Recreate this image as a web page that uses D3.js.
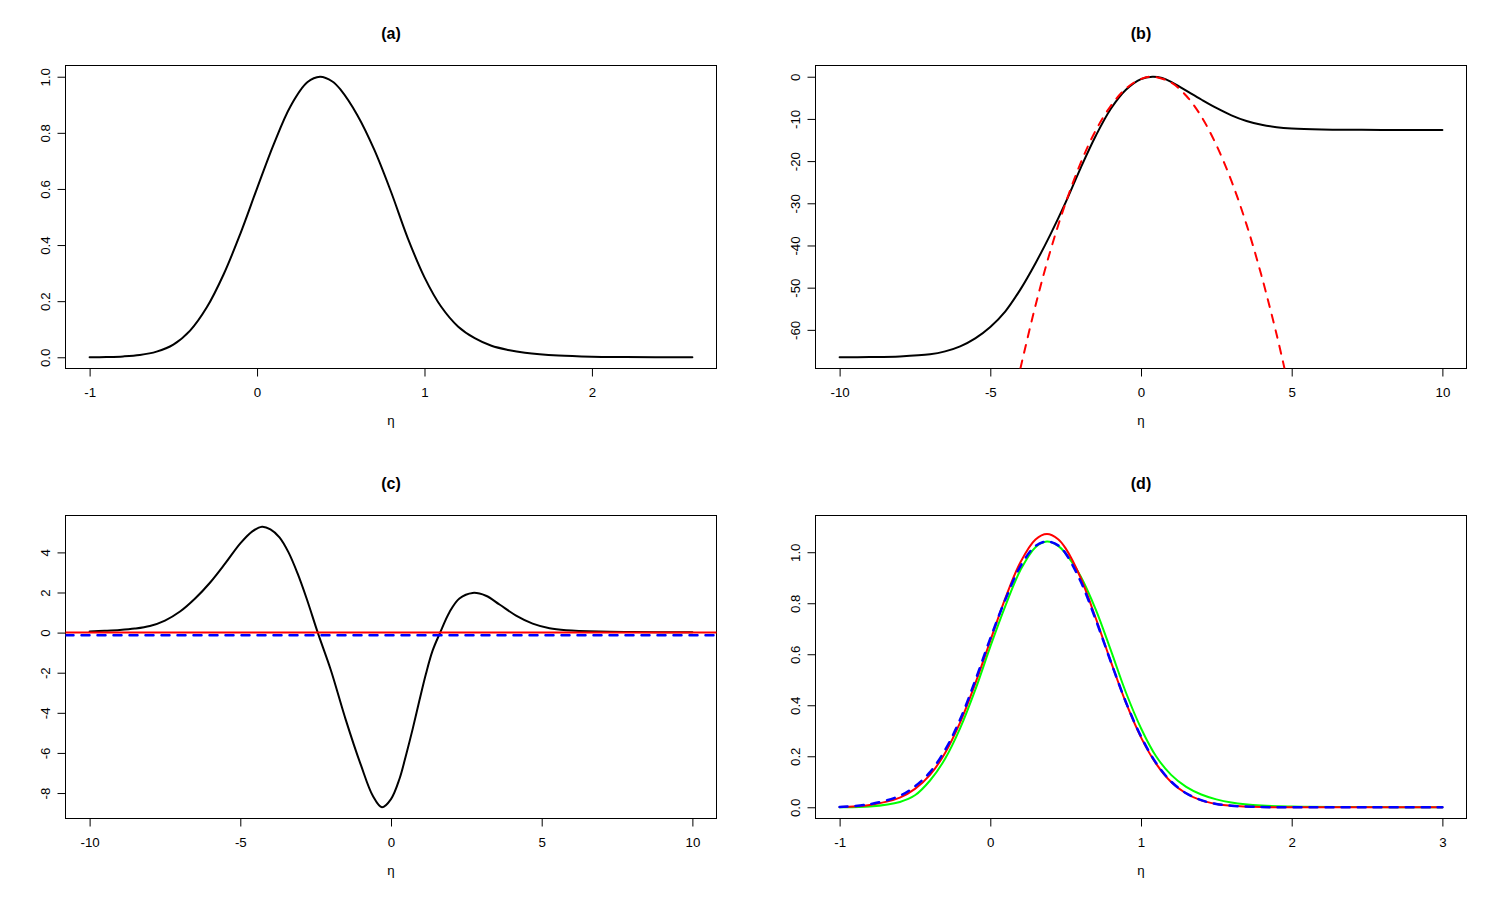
<!DOCTYPE html>
<html>
<head>
<meta charset="utf-8">
<script src="https://cdn.jsdelivr.net/npm/d3@7"></script>
<style>
  html, body { margin: 0; padding: 0; background: #fff; }
  svg { display: block; }
  text { font-family: "Liberation Sans", Arial, Helvetica, sans-serif; }
</style>
</head>
<body>
<svg id="chart" width="1500" height="900"></svg>
<script>
// ---------------- data ----------------
// Panel (a): normalised posterior-like curve
const etaA = [-1, -0.9, -0.8, -0.7, -0.6, -0.5, -0.4, -0.3, -0.2, -0.1, 0, 0.1, 0.2, 0.3, 0.376, 0.45, 0.5, 0.6, 0.7, 0.8, 0.9, 1.0, 1.1, 1.2, 1.3, 1.4, 1.5, 1.6, 1.8, 2.0, 2.2, 2.6];
const valA = [0, 0.001, 0.003, 0.008, 0.020, 0.045, 0.095, 0.178, 0.295, 0.44, 0.602, 0.76, 0.895, 0.98, 1.0, 0.983, 0.953, 0.862, 0.74, 0.59, 0.425, 0.285, 0.18, 0.11, 0.068, 0.041, 0.026, 0.016, 0.006, 0.002, 0.001, 0];

// Panel (b): log curve (black) and quadratic approximation (red dashed)
const etaB = [-10, -9, -8, -7, -6.5, -6, -5.5, -5, -4.5, -4, -3.5, -3, -2.5, -2, -1.5, -1, -0.5, 0, 0.38, 0.7, 1, 1.5, 2, 2.5, 3, 3.5, 4, 4.5, 5, 6, 7, 8, 10];
const valB = [-66.5, -66.45, -66.3, -65.8, -65.1, -63.9, -62.0, -59.3, -55.6, -50.4, -44.2, -37.3, -29.8, -21.6, -14.0, -7.6, -3.1, -0.55, 0, -0.3, -1.2, -3.3, -5.4, -7.4, -9.15, -10.5, -11.4, -11.95, -12.25, -12.5, -12.58, -12.6, -12.62];
const etaBq = [-4.0, -3.5, -3, -2.5, -2, -1.5, -1, -0.5, 0, 0.38, 1, 1.5, 2, 2.5, 3, 3.5, 4, 4.5, 4.76];
const valBq = [-69.1, -54.2, -41.1, -29.9, -20.4, -12.7, -6.9, -2.8, -0.52, 0, -1.38, -4.5, -9.4, -16.2, -24.7, -35.0, -47.2, -61.1, -69.1];

// Panel (c): curve (black) and two horizontal reference levels
const etaC = [-10, -9.5, -9, -8.5, -8, -7.5, -7, -6.5, -6, -5.5, -5, -4.6, -4.28, -4, -3.7, -3.4, -3.1, -2.8, -2.43, -2, -1.5, -1, -0.6, -0.3, 0, 0.28, 0.5, 0.72, 0.94, 1.16, 1.38, 1.63, 1.94, 2.27, 2.71, 3.15, 3.6, 4.15, 4.7, 5.26, 5.81, 6.9, 8, 10];
const valC = [0.06, 0.09, 0.13, 0.2, 0.33, 0.6, 1.05, 1.7, 2.5, 3.45, 4.45, 5.05, 5.28, 5.15, 4.75, 4.0, 2.95, 1.7, 0, -1.85, -4.35, -6.6, -8.15, -8.71, -8.3, -7.3, -6.1, -4.8, -3.4, -2.05, -0.9, 0, 1.02, 1.7, 1.98, 1.84, 1.4, 0.85, 0.45, 0.22, 0.12, 0.05, 0.03, 0.02];
const levelRedC = 0;
const levelBlueC = -0.13;

// Panel (d): three densities
const etaD   = [-1, -0.8, -0.6, -0.5, -0.4, -0.3, -0.2, -0.1, 0, 0.1, 0.2, 0.3, 0.376, 0.45, 0.5, 0.6, 0.7, 0.8, 0.9, 1.0, 1.1, 1.2, 1.3, 1.4, 1.5, 1.6, 1.8, 2.0, 2.5, 3.0];
const redD   = [0.001, 0.009, 0.038, 0.072, 0.127, 0.213, 0.333, 0.485, 0.653, 0.820, 0.961, 1.050, 1.071, 1.051, 1.015, 0.899, 0.741, 0.571, 0.410, 0.274, 0.171, 0.099, 0.054, 0.027, 0.013, 0.006, 0.001, 0, 0, 0];
const greenD = [0, 0.003, 0.021, 0.047, 0.105, 0.19, 0.31, 0.46, 0.63, 0.79, 0.93, 1.02, 1.042, 1.025, 0.995, 0.905, 0.775, 0.615, 0.45, 0.31, 0.20, 0.127, 0.08, 0.05, 0.031, 0.019, 0.007, 0.003, 0.001, 0];
const blueD  = [0.001, 0.012, 0.045, 0.082, 0.138, 0.225, 0.345, 0.497, 0.662, 0.815, 0.945, 1.025, 1.042, 1.027, 0.995, 0.885, 0.735, 0.57, 0.412, 0.278, 0.174, 0.101, 0.055, 0.028, 0.013, 0.006, 0.001, 0, 0, 0];

// axis domains and tick labels
const titles = ["(a)", "(b)", "(c)", "(d)"];
const xDomA = [-1, 2.6],  yDomA = [0, 1];
const xDomB = [-10, 10],  yDomB = [-66.5, 0];
const xDomC = [-10, 10],  yDomC = [-8.71, 5.28];
const xDomD = [-1, 3],    yDomD = [0, 1.1];
const xTicksA = [-1, 0, 1, 2],            xLabA = ["-1", "0", "1", "2"];
const yTicksA = [0, 0.2, 0.4, 0.6, 0.8, 1], yLabA = ["0.0", "0.2", "0.4", "0.6", "0.8", "1.0"];
const xTicksB = [-10, -5, 0, 5, 10],      xLabB = ["-10", "-5", "0", "5", "10"];
const yTicksB = [0, -10, -20, -30, -40, -50, -60], yLabB = ["0", "-10", "-20", "-30", "-40", "-50", "-60"];
const xTicksC = [-10, -5, 0, 5, 10],      xLabC = ["-10", "-5", "0", "5", "10"];
const yTicksC = [4, 2, 0, -2, -4, -6, -8], yLabC = ["4", "2", "0", "-2", "-4", "-6", "-8"];
const xTicksD = [-1, 0, 1, 2, 3],         xLabD = ["-1", "0", "1", "2", "3"];
const yTicksD = [0, 0.2, 0.4, 0.6, 0.8, 1], yLabD = ["0.0", "0.2", "0.4", "0.6", "0.8", "1.0"];
const xLabel = "η";

// ---------------- layout ----------------
const svg = d3.select("#chart");
const box = { x0: 65.5, x1: 716.5, y0: 65.5, y1: 368.5 };
const FONT = 13.3;
const expand = d => { const r = d[1] - d[0]; return [d[0] - 0.04 * r, d[1] + 0.04 * r]; };

function panel(idx, ox, oy, cfg) {
  const g = svg.append("g").attr("transform", `translate(${ox},${oy})`);
  const x = d3.scaleLinear().domain(expand(cfg.xDom)).range([box.x0, box.x1]);
  const y = d3.scaleLinear().domain(expand(cfg.yDom)).range([box.y1, box.y0]);

  const clipId = "clip" + idx;
  g.append("clipPath").attr("id", clipId).append("rect")
    .attr("x", box.x0).attr("y", box.y0).attr("width", box.x1 - box.x0).attr("height", box.y1 - box.y0);

  // x axis
  const xa = g.append("g").attr("transform", `translate(0,${box.y1})`)
    .call(d3.axisBottom(x).tickValues(cfg.xTicks).tickSize(8).tickFormat((d, i) => cfg.xLab[i]));
  xa.select(".domain").remove();
  xa.selectAll(".tick line").attr("stroke", "#000").attr("stroke-width", 1);
  xa.selectAll(".tick text").attr("y", 28.5).attr("dy", null)
    .attr("font-size", FONT).attr("fill", "#000")
    .attr("font-family", '"Liberation Sans", Arial, Helvetica, sans-serif');
  xa.append("line").attr("x1", x(cfg.xTicks[0])).attr("x2", x(cfg.xTicks[cfg.xTicks.length - 1]))
    .attr("y1", 0).attr("y2", 0).attr("stroke", "#000");

  // y axis
  const ya = g.append("g").attr("transform", `translate(${box.x0},0)`)
    .call(d3.axisLeft(y).tickValues(cfg.yTicks).tickSize(8).tickFormat((d, i) => cfg.yLab[i]));
  ya.select(".domain").remove();
  ya.selectAll(".tick line").attr("stroke", "#000").attr("stroke-width", 1);
  ya.selectAll(".tick text").attr("x", 0).attr("y", -15.5).attr("dy", null)
    .attr("transform", "rotate(-90)").attr("text-anchor", "middle")
    .attr("font-size", FONT).attr("fill", "#000")
    .attr("font-family", '"Liberation Sans", Arial, Helvetica, sans-serif');
  const yExt = d3.extent(cfg.yTicks);
  ya.append("line").attr("x1", 0).attr("x2", 0).attr("y1", y(yExt[0])).attr("y2", y(yExt[1])).attr("stroke", "#000");

  // plot box
  g.append("rect").attr("x", box.x0).attr("y", box.y0)
    .attr("width", box.x1 - box.x0).attr("height", box.y1 - box.y0)
    .attr("fill", "none").attr("stroke", "#000").attr("stroke-width", 1);

  // title and x label
  const cx = (box.x0 + box.x1) / 2;
  g.append("text").attr("x", cx).attr("y", 39).attr("text-anchor", "middle")
    .attr("font-size", 16).attr("font-weight", "bold").text(titles[idx]);
  g.append("text").attr("x", cx).attr("y", 425).attr("text-anchor", "middle")
    .attr("font-size", FONT).text(xLabel);

  const plot = g.append("g").attr("clip-path", `url(#${clipId})`);
  const line = d3.line().x(d => x(d[0])).y(d => y(d[1])).curve(d3.curveCatmullRom.alpha(0.5));
  cfg.series.forEach(s => {
    const pts = s.eta.map((e, i) => [e, s.val[i]]);
    plot.append("path").attr("d", line(pts)).attr("fill", "none")
      .attr("stroke", s.color).attr("stroke-width", s.width)
      .attr("stroke-linecap", "round").attr("stroke-linejoin", "round")
      .attr("stroke-dasharray", s.dash || null);
  });
  (cfg.hlines || []).forEach(h => {
    plot.append("line").attr("x1", box.x0).attr("x2", box.x1)
      .attr("y1", y(h.v)).attr("y2", y(h.v))
      .attr("stroke", h.color).attr("stroke-width", h.width)
      .attr("stroke-linecap", "round").attr("stroke-dasharray", h.dash || null);
  });
}

panel(0, 0, 0, {
  xDom: xDomA, yDom: yDomA, xTicks: xTicksA, xLab: xLabA, yTicks: yTicksA, yLab: yLabA,
  series: [{ eta: etaA, val: valA, color: "#000", width: 2 }]
});
panel(1, 750, 0, {
  xDom: xDomB, yDom: yDomB, xTicks: xTicksB, xLab: xLabB, yTicks: yTicksB, yLab: yLabB,
  series: [
    { eta: etaB, val: valB, color: "#000", width: 2 },
    { eta: etaBq, val: valBq, color: "#ff0000", width: 2, dash: "8,8" }
  ]
});
panel(2, 0, 450, {
  xDom: xDomC, yDom: yDomC, xTicks: xTicksC, xLab: xLabC, yTicks: yTicksC, yLab: yLabC,
  series: [{ eta: etaC, val: valC, color: "#000", width: 2 }],
  hlines: [
    { v: levelRedC, color: "#ff0000", width: 2 },
    { v: levelBlueC, color: "#0000ff", width: 2.5, dash: "8,8" }
  ]
});
panel(3, 750, 450, {
  xDom: xDomD, yDom: yDomD, xTicks: xTicksD, xLab: xLabD, yTicks: yTicksD, yLab: yLabD,
  series: [
    { eta: etaD, val: greenD, color: "#00ff00", width: 2 },
    { eta: etaD, val: redD, color: "#ff0000", width: 2 },
    { eta: etaD, val: blueD, color: "#0000ff", width: 2.5, dash: "8,8" }
  ]
});
</script>
</body>
</html>
